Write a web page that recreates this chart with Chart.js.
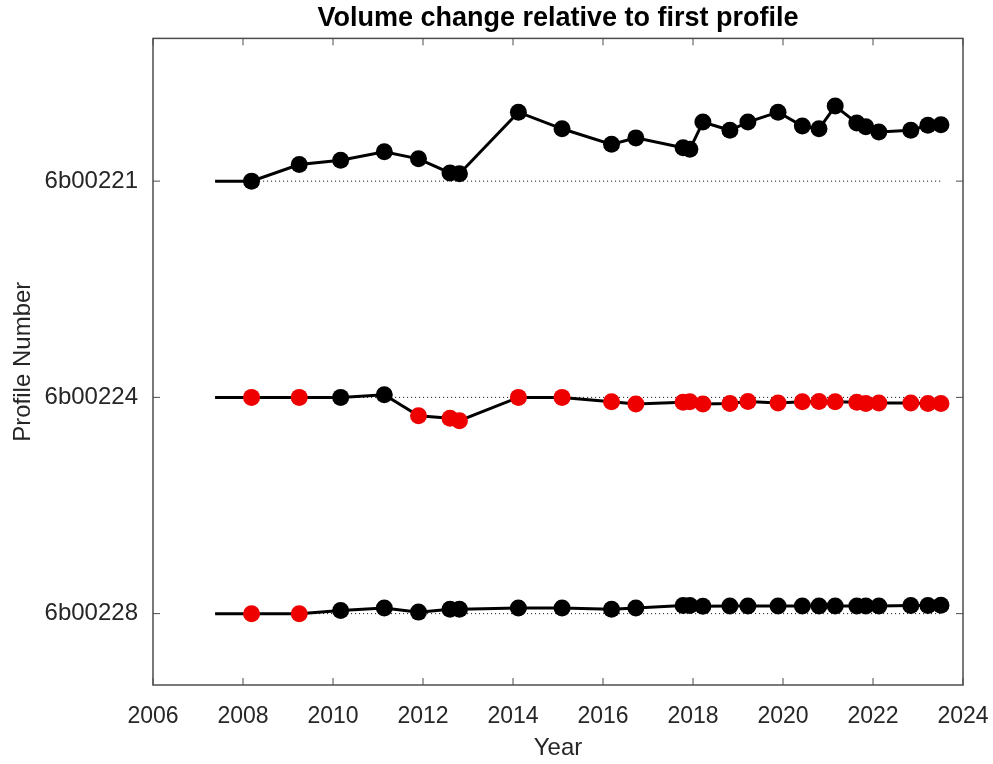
<!DOCTYPE html>
<html>
<head>
<meta charset="utf-8">
<script src="https://cdn.jsdelivr.net/npm/chart.js@4.4.0/dist/chart.umd.min.js"></script>
<style>
  html, body { margin: 0; padding: 0; background: #fff; }
  #wrap { width: 993px; height: 764px; }
</style>
</head>
<body>
<div id="wrap"><canvas id="profileChart" width="993" height="764"></canvas></div>
<script>
// survey dates (decimal year); first entry is the reference profile
const dates = [2007.38, 2008.19, 2009.25, 2010.17, 2011.14, 2011.90, 2012.60, 2012.81,
  2014.12, 2015.09, 2016.19, 2016.73, 2017.78, 2017.93, 2018.22, 2018.82, 2019.22,
  2019.89, 2020.43, 2020.80, 2021.16, 2021.64, 2021.84, 2022.13, 2022.84, 2023.22, 2023.51];

const profiles = ['6b00221', '6b00224', '6b00228'];

// volume change relative to first profile
const vol221 = [0, 0, 7.7, 9.7, 13.6, 10.3, 3.8, 3.4, 31.9, 24.2, 17.0, 20.0, 15.4, 14.7,
  27.3, 23.5, 27.3, 31.9, 25.5, 24.2, 34.7, 26.9, 25.1, 22.7, 23.5, 25.8, 26.1];
const vol224 = [0, 0, 0, 0, 1.2, -8.5, -9.7, -10.8, 0, 0, -2.0, -3.1, -2.3, -2.0,
  -3.1, -2.8, -1.9, -2.6, -2.0, -1.9, -2.0, -2.3, -2.8, -2.6, -2.6, -2.8, -2.8];
const vol228 = [0, 0, 0, 1.5, 2.6, 0.7, 2.0, 2.0, 2.6, 2.6, 2.0, 2.6, 3.8, 3.8,
  3.4, 3.5, 3.5, 3.5, 3.5, 3.5, 3.5, 3.5, 3.5, 3.5, 3.8, 3.8, 3.9];

// 1 = flagged (red) point
const flag221 = [0, 0, 0, 0, 0, 0, 0, 0, 0, 0, 0, 0, 0, 0, 0, 0, 0, 0, 0, 0, 0, 0, 0, 0, 0, 0, 0];
const flag224 = [0, 1, 1, 0, 0, 1, 1, 1, 1, 1, 1, 1, 1, 1, 1, 1, 1, 1, 1, 1, 1, 1, 1, 1, 1, 1, 1];
const flag228 = [0, 1, 1, 0, 0, 0, 0, 0, 0, 0, 0, 0, 0, 0, 0, 0, 0, 0, 0, 0, 0, 0, 0, 0, 0, 0, 0];

const yearTicks = [2006, 2008, 2010, 2012, 2014, 2016, 2018, 2020, 2022, 2024];

const scaleFactor = 100; // volume units per profile spacing
const RED = '#ee0000';
const AXIS = '#4d4d4d';
const TXT = '#262626';
const FONT = 'Liberation Sans, Arial, sans-serif';

function makeSeries(idx, vols, flags) {
  const base = idx + 1;
  return {
    data: dates.map((d, i) => ({ x: d, y: base - vols[i] / scaleFactor })),
    borderColor: '#000',
    borderWidth: 3,
    pointRadius: dates.map((d, i) => (i === 0 ? 0 : 8.5)),
    pointBackgroundColor: flags.map(f => (f ? RED : '#000')),
    pointBorderColor: flags.map(f => (f ? RED : '#000')),
    pointBorderWidth: 0,
    order: 1
  };
}

function makeRef(idx) {
  return {
    data: [{ x: dates[0], y: idx + 1 }, { x: dates[dates.length - 1], y: idx + 1 }],
    borderColor: '#000',
    borderWidth: 1,
    borderDash: [1, 3],
    pointRadius: 0,
    order: 2
  };
}

// box and inward tick marks, matlab style
const boxPlugin = {
  id: 'box',
  afterDraw(chart) {
    const { ctx, chartArea: a, scales } = chart;
    ctx.save();
    ctx.strokeStyle = AXIS;
    ctx.lineWidth = 1.5;
    ctx.strokeRect(a.left, a.top, a.right - a.left, a.bottom - a.top);
    ctx.lineWidth = 1;
    const tl = 7;
    ctx.beginPath();
    yearTicks.forEach(v => {
      const x = scales.x.getPixelForValue(v);
      ctx.moveTo(x, a.bottom); ctx.lineTo(x, a.bottom - tl);
      ctx.moveTo(x, a.top); ctx.lineTo(x, a.top + tl);
    });
    profiles.forEach((p, i) => {
      const y = scales.y.getPixelForValue(i + 1);
      ctx.moveTo(a.left, y); ctx.lineTo(a.left + tl, y);
      ctx.moveTo(a.right, y); ctx.lineTo(a.right - tl, y);
    });
    ctx.stroke();
    ctx.restore();
  }
};

const ctx = document.getElementById('profileChart').getContext('2d');

new Chart(ctx, {
  type: 'line',
  data: {
    datasets: [
      makeSeries(0, vol221, flag221),
      makeSeries(1, vol224, flag224),
      makeSeries(2, vol228, flag228),
      makeRef(0), makeRef(1), makeRef(2)
    ]
  },
  options: {
    responsive: false,
    animation: false,
    layout: { padding: { left: 0, right: 30, top: 0, bottom: 0 } },
    plugins: {
      legend: { display: false },
      tooltip: { enabled: false },
      title: {
        display: true,
        fullSize: false,
        text: 'Volume change relative to first profile',
        color: '#000',
        font: { family: FONT, size: 27, weight: 'bold' },
        padding: { top: 2, bottom: 4 }
      }
    },
    scales: {
      x: {
        type: 'linear',
        min: 2006,
        max: 2024,
        afterBuildTicks: s => { s.ticks = yearTicks.map(v => ({ value: v })); },
        afterFit: s => { s.height = 79; s.paddingLeft = 0; s.paddingRight = 0; },
        grid: { display: false, drawTicks: false },
        border: { display: false },
        ticks: {
          color: TXT,
          padding: 18,
          maxRotation: 0,
          font: { family: FONT, size: 23 },
          callback: v => String(v)
        },
        title: {
          display: true,
          text: 'Year',
          color: TXT,
          font: { family: FONT, size: 24 },
          padding: { top: 0, bottom: 1 }
        }
      },
      y: {
        type: 'linear',
        reverse: true,
        min: 0.34,
        max: 3.33,
        afterBuildTicks: s => { s.ticks = profiles.map((p, i) => ({ value: i + 1 })); },
        afterFit: s => { s.width = 153; s.paddingTop = 0; s.paddingBottom = 0; },
        grid: { display: false, drawTicks: false },
        border: { display: false },
        ticks: {
          color: TXT,
          padding: 15,
          font: { family: FONT, size: 24 },
          callback: v => profiles[Math.round(v) - 1] || ''
        },
        title: {
          display: true,
          text: 'Profile Number',
          color: TXT,
          font: { family: FONT, size: 24 },
          padding: { top: 9, bottom: 0 }
        }
      }
    }
  },
  plugins: [boxPlugin]
});
</script>
</body>
</html>
